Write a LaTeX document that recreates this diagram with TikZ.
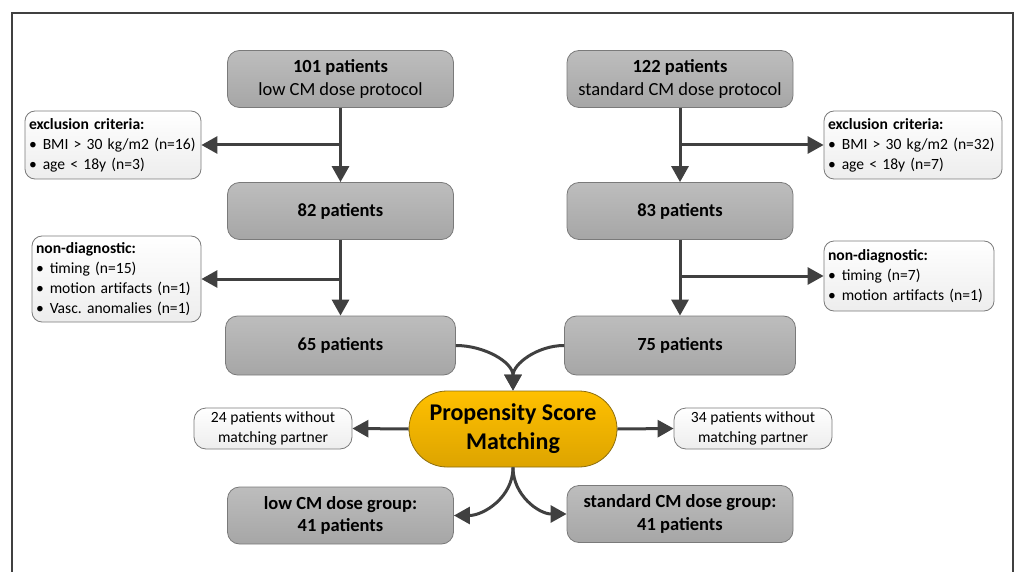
\documentclass[tikz,border=0pt]{standalone}
\usepackage{fontspec}
\setmainfont{Carlito}
\usetikzlibrary{arrows.meta, positioning, shapes.geometric, calc}
\definecolor{boxtop}{HTML}{BDBDBD}
\definecolor{boxbot}{HTML}{A6A6A6}
\definecolor{boxline}{HTML}{7A7A7A}
\definecolor{sidebot}{HTML}{EDEDED}
\definecolor{psmtop}{HTML}{FFC000}
\definecolor{psmbot}{HTML}{DDA400}
\definecolor{psmline}{HTML}{8C6E10}
\definecolor{arrcol}{HTML}{404040}
\newcommand{\bitem}{\textbullet\hspace{6pt}}
\newcommand{\bigtxt}{\fontsize{18.5}{22.5}\selectfont}
\newcommand{\smalltxt}{\fontsize{15.6}{20}\selectfont}
\frenchspacing
\tikzset{
  mainbox/.style={draw=boxline, line width=0.8pt, rounded corners=12pt, top color=boxtop, bottom color=boxbot, align=center, minimum width=226pt, minimum height=57pt, font=\bigtxt},
  sidebox/.style={draw=boxline, line width=0.8pt, rounded corners=10pt, top color=white, bottom color=sidebot, align=left, inner xsep=4pt, inner ysep=3pt, font=\smalltxt},
  nomatch/.style={draw=boxline, line width=0.8pt, rounded corners=12pt, top color=white, bottom color=sidebot, align=center, minimum width=158pt, minimum height=41pt, inner sep=2pt, font=\smalltxt},
  psmbox/.style={draw=psmline, line width=0.8pt, rounded corners=38pt, top color=psmtop, bottom color=psmbot, align=center, minimum width=208pt, minimum height=76pt, font=\fontsize{24}{29}\selectfont\bfseries},
  arr/.style={->, draw=arrcol, line width=3pt},
  frame/.style={draw=arrcol, line width=2pt}
}
\begin{document}
\begin{tikzpicture}[x=1pt, y=-1pt, >={Triangle[length=16pt,width=17pt]}]
\useasboundingbox (0,0) rectangle (1014,572);
\draw[frame] (12,572) -- (12,13) -- (1013,13) -- (1013,572);

% left arm
\node[mainbox] (low) at (340.5,79) {\textbf{101 patients}\\low CM dose protocol};
\node[mainbox] (p82) at (340.5,211) {\textbf{82 patients}};
\node[mainbox, minimum width=230pt, minimum height=59pt] (p65) at (340.5,345.5) {\textbf{65 patients}};
\node[sidebox, text width=168pt, minimum height=68pt] (exl) at (113,145) {\textbf{exclusion criteria:}\\\bitem BMI > 30 kg/m2 (n=16)\\\bitem age < 18y (n=3)};
\node[sidebox, text width=161pt, minimum height=86pt] (ndl) at (116.5,279) {\textbf{non-diagnostic:}\\\bitem timing (n=15)\\\bitem motion artifacts (n=1)\\\bitem Vasc. anomalies (n=1)};

% right arm
\node[mainbox] (std) at (680,79) {\textbf{122 patients}\\standard CM dose protocol};
\node[mainbox] (p83) at (680,211) {\textbf{83 patients}};
\node[mainbox, minimum width=231pt, minimum height=59pt] (p75) at (680,345.5) {\textbf{75 patients}};
\node[sidebox, text width=170pt, minimum height=68pt] (exr) at (913,145) {\textbf{exclusion criteria:}\\\bitem BMI > 30 kg/m2 (n=32)\\\bitem age < 18y (n=7)};
\node[sidebox, text width=162pt, minimum height=70pt] (ndr) at (909,276) {\textbf{non-diagnostic:}\\\bitem timing (n=7)\\\bitem motion artifacts (n=1)};

% matching
\node[psmbox] (psm) at (513,429) {Propensity Score\\Matching};
\node[nomatch] (nml) at (273,428.5) {24 patients without\\matching partner};
\node[nomatch] (nmr) at (753,428.5) {34 patients without\\matching partner};
\node[mainbox] (grl) at (340.5,515.5) {\textbf{low CM dose group:}\\\textbf{41 patients}};
\node[mainbox] (grr) at (680,514) {\textbf{standard CM dose group:}\\\textbf{41 patients}};

\draw[arr] (low) -- (p82);
\draw[arr] (p82) -- (p65);
\draw[arr] (exl -| low) -- (exl.east);
\draw[arr] (ndl -| low) -- (ndl.east);
\draw[arr] (std) -- (p83);
\draw[arr] (p83) -- (p75);
\draw[arr] (exr -| std) -- (exr.west);
\draw[arr] (ndr -| std) -- (ndr.west);
\draw[arr] (p65.east) to[out=0, in=90] (psm.north);
\draw[arr] (p75.west) to[out=180, in=90] (psm.north);
\draw[arr] (psm.west) -- (nml.east);
\draw[arr] (psm.east) -- (nmr.west);
\draw[arr] (psm.south) to[out=-90, in=0] (grl.east);
\draw[arr] (psm.south) to[out=-90, in=180] (grr.west);
\end{tikzpicture}
\end{document}
